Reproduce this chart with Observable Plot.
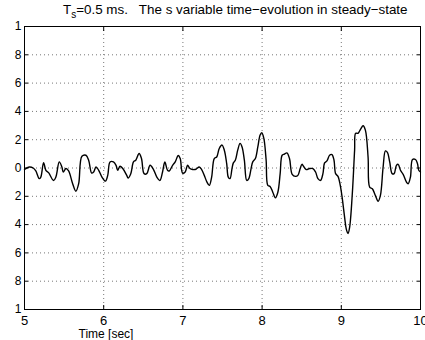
<!DOCTYPE html>
<html><head><meta charset="utf-8">
<script src="https://cdn.jsdelivr.net/npm/d3@7"></script>
<script src="https://cdn.jsdelivr.net/npm/@observablehq/plot@0.6"></script>
<style>
body{margin:0;background:#fff}
#chart{width:425px;height:340px}
</style>
</head><body><div id="chart"></div>
<script>
const time = [5.00,5.059,5.110,5.143,5.186,5.206,5.241,5.270,5.304,5.367,5.396,5.439,5.472,5.490,5.523,5.557,5.608,5.649,5.684,5.725,5.776,5.810,5.848,5.873,5.903,5.937,5.978,6.022,6.051,6.080,6.123,6.156,6.177,6.206,6.241,6.291,6.308,6.342,6.376,6.405,6.447,6.477,6.510,6.544,6.586,6.629,6.671,6.709,6.743,6.772,6.806,6.827,6.870,6.903,6.941,6.966,6.996,7.029,7.059,7.089,7.123,7.165,7.206,7.237,7.270,7.304,7.333,7.363,7.396,7.427,7.459,7.494,7.523,7.553,7.573,7.595,7.620,7.637,7.662,7.692,7.722,7.747,7.776,7.806,7.832,7.861,7.882,7.915,7.946,7.975,7.996,8.022,8.051,8.072,8.101,8.135,8.168,8.199,8.228,8.253,8.282,8.313,8.346,8.380,8.422,8.452,8.481,8.503,8.523,8.557,8.599,8.642,8.675,8.705,8.738,8.768,8.789,8.819,8.852,8.882,8.908,8.928,8.958,8.987,9.013,9.042,9.063,9.085,9.105,9.139,9.168,9.181,9.211,9.244,9.275,9.304,9.338,9.358,9.392,9.430,9.465,9.494,9.528,9.557,9.582,9.611,9.642,9.667,9.696,9.718,9.747,9.781,9.823,9.844,9.873,9.899,9.937,9.962,9.978,10.0];
const sValue = [-0.011,0.007,0,-0.021,-0.075,-0.064,0.038,-0.016,-0.033,-0.088,-0.064,0.043,0.007,-0.028,-0.004,-0.021,-0.111,-0.164,-0.111,0.083,0.090,0.055,-0.036,-0.028,0.007,-0.016,-0.064,-0.093,-0.052,0.043,0.043,0.019,-0.016,0.012,-0.004,-0.052,-0.071,-0.040,0.043,0.055,0.102,0.067,-0.040,-0.040,0.019,-0.011,-0.064,-0.088,-0.028,0.043,-0.016,-0.021,0.019,0.043,0.088,0.067,-0.036,-0.028,0.019,-0.004,-0.011,-0.009,0.007,-0.011,-0.052,-0.100,-0.123,-0.064,0.067,0.078,0.138,0.162,0.126,0.031,-0.064,-0.075,-0.004,0.036,0.055,0.126,0.174,0.149,0.055,-0.088,-0.075,-0.004,0.043,0.067,0.149,0.233,0.249,0.209,0.055,-0.123,-0.130,-0.171,-0.211,-0.171,-0.040,0.090,0.098,0.107,0.067,-0.045,-0.059,-0.052,-0.004,0.026,0.012,-0.011,-0.004,-0.004,-0.028,-0.075,-0.088,-0.040,0.036,0.050,0.090,0.095,0.055,-0.040,-0.059,-0.123,-0.218,-0.349,-0.432,-0.463,-0.420,-0.182,0.126,0.245,0.245,0.275,0.299,0.268,0.078,-0.135,-0.147,-0.194,-0.235,-0.194,0.007,0.121,0.110,0.043,-0.040,-0.040,0.019,0.026,-0.016,-0.045,-0.100,-0.111,-0.064,0.060,0.060,0.031,-0.016,-0.028];
const xTicks = [5,6,7,8,9,10];
const xTickLabels = ["5","6","7","8","9","10"];
const yTicks = [-1,-0.8,-0.6,-0.4,-0.2,0,0.2,0.4,0.6,0.8,1];
const yTickLabels = ["1","8","6","4","2","0","2","4","6","8","1"];
const titleMain = "T";
const titleSub = "s";
const titleRest = "=0.5 ms.   The s variable time\u2212evolution in steady\u2212state";
const xLabel = "Time [sec]";

const n = Math.min(time.length, sValue.length);
const data = time.slice(0, n).map((t, i) => ({t, s: sValue[i]}));
const font = "'Liberation Sans', Arial, Helvetica, sans-serif";
const gridStyle = {stroke: "#777", strokeOpacity: 1, strokeWidth: 1, strokeDasharray: "1,3"};

const plot = Plot.plot({
  width: 425, height: 340,
  marginLeft: 24, marginRight: 5, marginTop: 26, marginBottom: 31,
  style: {fontFamily: font, background: "white", color: "black"},
  x: {domain: [5, 10]},
  y: {domain: [-1, 1]},
  marks: [
    Plot.gridX(xTicks.slice(1, -1), gridStyle),
    Plot.gridY(yTicks.slice(1, -1), gridStyle),
    Plot.line(data, {x: "t", y: "s", stroke: "black", strokeWidth: 1.4, curve: "catmull-rom"}),
    Plot.frame({stroke: "black", strokeWidth: 1}),
    Plot.axisX(xTicks, {anchor: "bottom", tickSize: 0, tickPadding: 6, fontSize: 13, label: null,
      tickFormat: d => xTickLabels[xTicks.indexOf(d)]}),
    Plot.axisX(xTicks, {anchor: "bottom", tickSize: -4, tickFormat: () => "", label: null}),
    Plot.axisX(xTicks, {anchor: "top", tickSize: -4, tickFormat: () => "", label: null}),
    Plot.axisY(yTicks, {anchor: "left", tickSize: 0, tickPadding: 3, fontSize: 12, label: null,
      tickFormat: d => yTickLabels[yTicks.indexOf(d)]}),
    Plot.axisY(yTicks, {anchor: "left", tickSize: -4, tickFormat: () => "", label: null}),
    Plot.axisY(yTicks, {anchor: "right", tickSize: -4, tickFormat: () => "", label: null})
  ]
});

const svg = d3.select(plot);
const title = svg.append("text")
  .attr("x", 63).attr("y", 14)
  .attr("text-anchor", "start")
  .attr("font-size", 13.4).attr("fill", "black")
  .attr("font-family", font)
  .style("white-space", "pre");
title.append("tspan").text(titleMain);
title.append("tspan").attr("dy", 4).attr("font-size", 10).text(titleSub);
title.append("tspan").attr("dy", -4).text(titleRest);

svg.append("text")
  .attr("x", 106).attr("y", 338)
  .attr("text-anchor", "middle")
  .attr("font-size", 12).attr("fill", "black")
  .attr("font-family", font)
  .text(xLabel);

document.getElementById("chart").appendChild(plot);
</script>
</body></html>
